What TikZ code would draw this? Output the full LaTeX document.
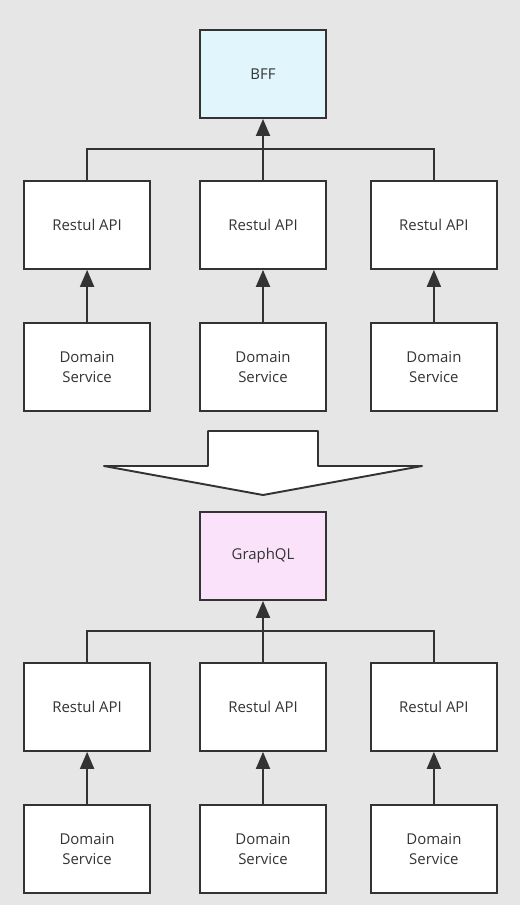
\documentclass[tikz,border=0pt]{standalone}
\usepackage{fontspec}
\setmainfont{Open Sans}
\usetikzlibrary{shapes,arrows.meta}
\usetikzlibrary{positioning}
\usetikzlibrary{calc}
\definecolor{mybg}{RGB}{230,230,230}
\definecolor{myline}{RGB}{51,51,51}
\definecolor{myblue}{RGB}{224,245,252}
\definecolor{mypink}{RGB}{250,227,250}
\newcommand\mycol[3]{%
  \node[mynode,#1] (#2) {Restul API};
  \node[mynode,below=1.04cm of #2] (#3) {Domain\\Service};
  \draw[myarrow] (#3) -- (#2);
}

\begin{document}
\begin{tikzpicture}[
x=0.02cm, y=-0.02cm,
node distance= 0.96 cm,
mynode/.style={
  rectangle,
  draw=myline,
  line width=1.1pt,
  fill=white,
  minimum width=2.52cm,
  minimum height=1.76cm,
  inner sep=0pt,
  align=center,
  text=myline,
  font=\fontsize{8.5}{11.4}\selectfont},
myarrow/.style={
  -{Triangle[length=0.34cm,width=0.28cm]},
  draw=myline,
  line width=1.1pt},
bus/.style={
  draw=myline,
  line width=1.1pt}
]
\fill[mybg] (0,0) rectangle (520,905);
% before
\node[mynode,fill=myblue] (bff) at (263,74) {BFF};
\mycol{below=1.22cm of bff}{a2}{s2}
\mycol{left=of a2}{a1}{s1}
\mycol{right=0.86cm of a2}{a3}{s3}
\coordinate (bus1) at ($(bff.south)!0.5!(a2.north)$);
\draw[bus] (a1.north) |- (bus1) -| (a3.north);
\draw[myarrow] (a2) -- (bff);
% big arrow
\draw[bus,fill=white,line join=round] (208,431) -- (318,431) -- (318,466) -- (422,466)
  -- (263,495) -- (104,466) -- (208,466) -- cycle;
% after
\node[mynode,fill=mypink] (gql) at (263,556) {GraphQL};
\mycol{below=1.22cm of gql}{a5}{s5}
\mycol{left=of a5}{a4}{s4}
\mycol{right=0.86cm of a5}{a6}{s6}
\coordinate (bus2) at ($(gql.south)!0.5!(a5.north)$);
\draw[bus] (a4.north) |- (bus2) -| (a6.north);
\draw[myarrow] (a5) -- (gql);
\end{tikzpicture}
\end{document}
